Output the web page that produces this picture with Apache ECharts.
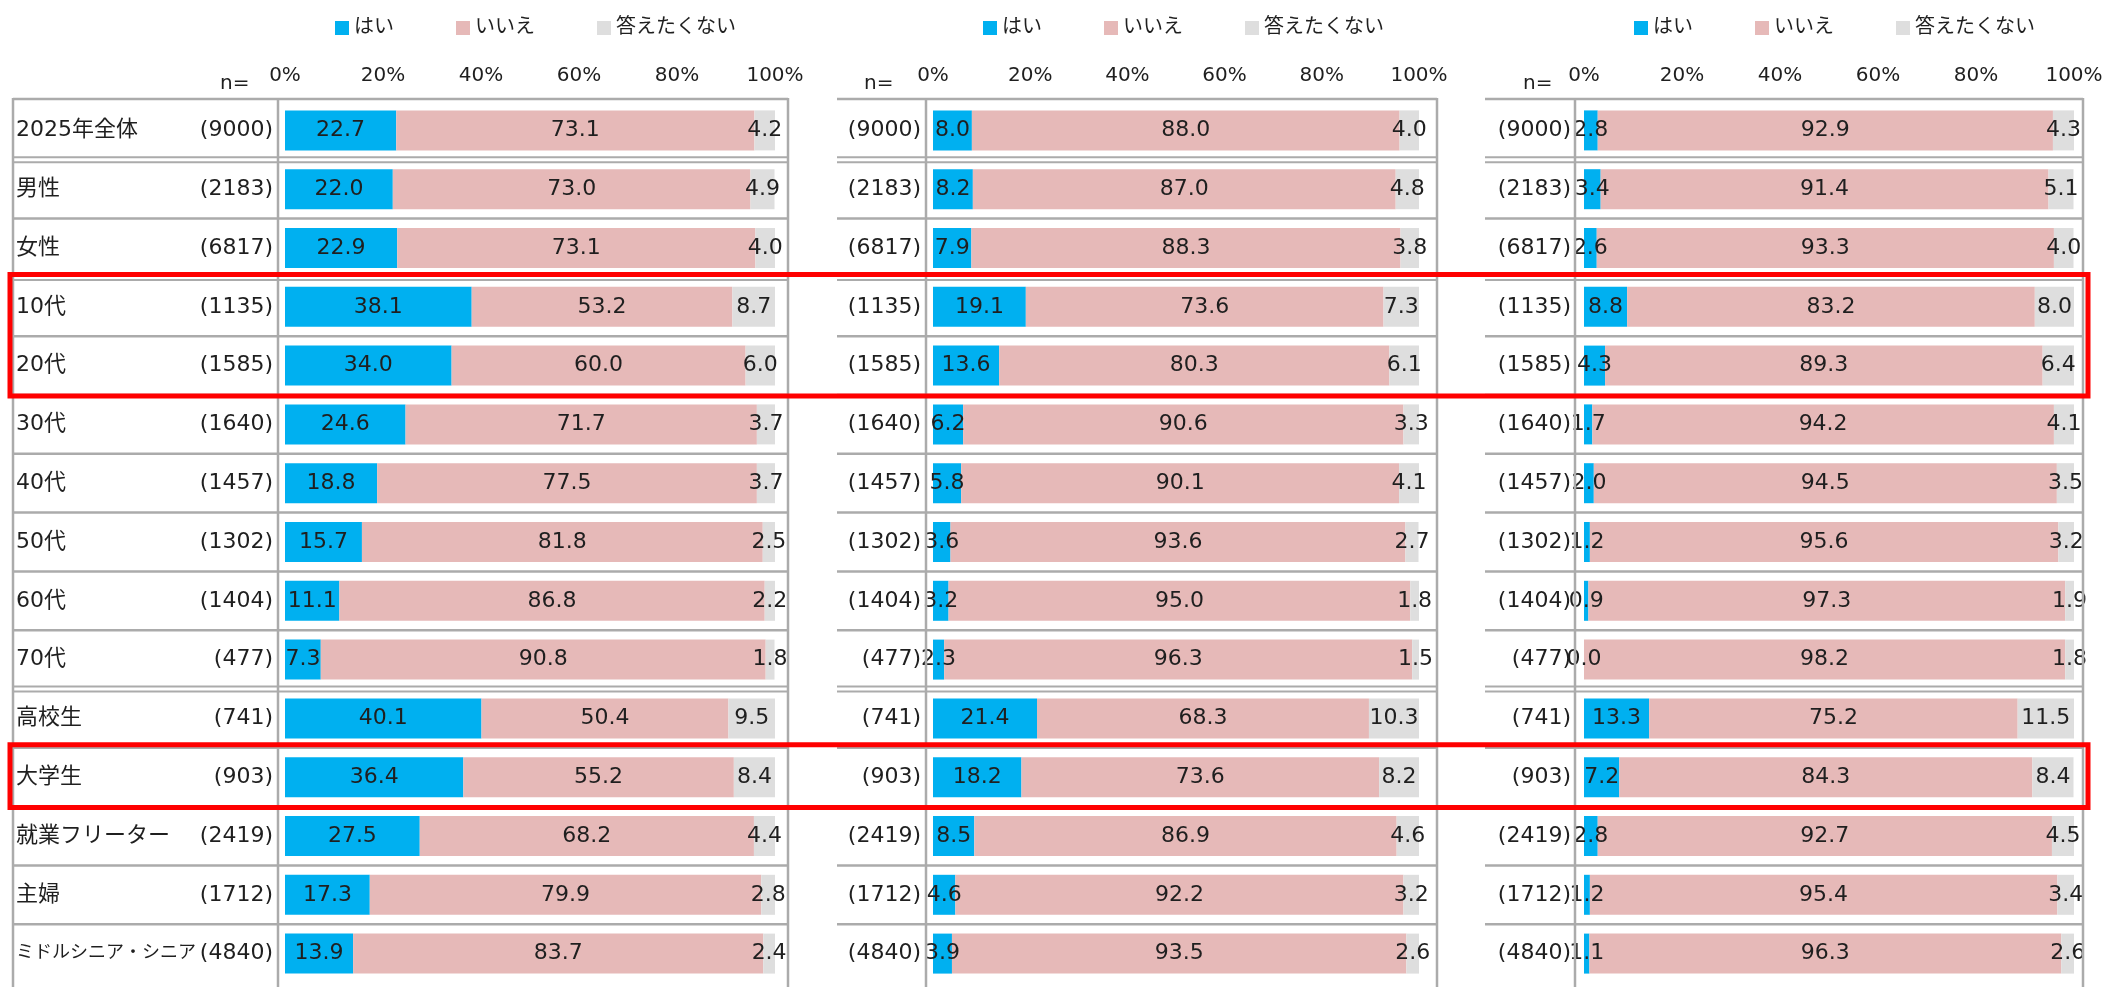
<!DOCTYPE html>
<html><head><meta charset="utf-8">
<script src="https://cdn.jsdelivr.net/npm/echarts@6/dist/echarts.min.js"></script>
<style>html,body{margin:0;padding:0;background:#fff}#c{width:2105px;height:987px}</style>
</head><body><div id="c"></div>
<script>
// ---- data ----
const categories = ['2025年全体','男性','女性','10代','20代','30代','40代','50代','60代','70代','高校生','大学生','就業フリーター','主婦','ミドルシニア・シニア'];
const sampleSizes = [9000,2183,6817,1135,1585,1640,1457,1302,1404,477,741,903,2419,1712,4840];
const seriesNames = ['はい','いいえ','答えたくない'];
const tickLabels = ['0%','20%','40%','60%','80%','100%'];

const yes1 = [22.7,22.0,22.9,38.1,34.0,24.6,18.8,15.7,11.1,7.3,40.1,36.4,27.5,17.3,13.9];
const no1  = [73.1,73.0,73.1,53.2,60.0,71.7,77.5,81.8,86.8,90.8,50.4,55.2,68.2,79.9,83.7];
const na1  = [4.2,4.9,4.0,8.7,6.0,3.7,3.7,2.5,2.2,1.8,9.5,8.4,4.4,2.8,2.4];

const yes2 = [8.0,8.2,7.9,19.1,13.6,6.2,5.8,3.6,3.2,2.3,21.4,18.2,8.5,4.6,3.9];
const no2  = [88.0,87.0,88.3,73.6,80.3,90.6,90.1,93.6,95.0,96.3,68.3,73.6,86.9,92.2,93.5];
const na2  = [4.0,4.8,3.8,7.3,6.1,3.3,4.1,2.7,1.8,1.5,10.3,8.2,4.6,3.2,2.6];

const yes3 = [2.8,3.4,2.6,8.8,4.3,1.7,2.0,1.2,0.9,0.0,13.3,7.2,2.8,1.2,1.1];
const no3  = [92.9,91.4,93.3,83.2,89.3,94.2,94.5,95.6,97.3,98.2,75.2,84.3,92.7,95.4,96.3];
const na3  = [4.3,5.1,4.0,8.0,6.4,4.1,3.5,3.2,1.9,1.8,11.5,8.4,4.5,3.4,2.6];

const highlightRows = [[3,4],[11,11]];
const doubleLineAfter = [0,2,9];

// ---- styling / layout ----
const FONT = '"DejaVu Sans", "Noto Sans CJK JP", sans-serif';
const TXT = '#1f1f1f';
const colors = ['#00B0F0','#E6B9B8','#DEDEDE'];
const LINE = '#ABABAB';
const ROW_TOP = 101, ROW_H = 58.8, NROW = categories.length;
const panels = [
  {tableLeft:13, divider:278, gridLeft:285, gridWidth:490, tableRight:788, leftBorder:true, nX:220},
  {tableLeft:837, divider:926, gridLeft:933, gridWidth:486, tableRight:1437, leftBorder:false, nX:864},
  {tableLeft:1485, divider:1575, gridLeft:1584, gridWidth:490, tableRight:2083, leftBorder:false, nX:1523}
];
const panelData = [[yes1,no1,na1],[yes2,no2,na2],[yes3,no3,na3]];

const grid = [], xAxis = [], yAxis = [], series = [], legend = [], graphic = [];

panels.forEach((p, pi) => {
  grid.push({left:p.gridLeft, width:p.gridWidth, top:ROW_TOP, height:ROW_H*NROW, outerBoundsMode:'none', containLabel:false});
  xAxis.push({
    gridIndex:pi, type:'value', min:0, max:100, interval:20, position:'top',
    axisLine:{show:false}, axisTick:{show:false}, splitLine:{show:false},
    axisLabel:{margin:15, fontSize:20, fontFamily:FONT, color:TXT, formatter: v => tickLabels[Math.round(v/20)]}
  });
  let axisLabel;
  if (pi === 0) {
    axisLabel = {
      align:'left', margin:p.gridLeft - 16,
      formatter:(v, i) => (v.length > 8 ? `{s|${v}}` : `{a|${v}}`) + `{b|(${sampleSizes[i]})}`,
      rich:{
        a:{width:185, align:'left', fontSize:22, fontFamily:FONT, color:TXT},
        s:{width:185, align:'left', fontSize:18, fontFamily:FONT, color:TXT},
        b:{width:72, align:'right', fontSize:22, fontFamily:FONT, color:TXT}
      }
    };
  } else {
    axisLabel = {margin: pi === 1 ? 12 : 13, fontSize:22, fontFamily:FONT, color:TXT,
      formatter:(v, i) => `(${sampleSizes[i]})`};
  }
  yAxis.push({gridIndex:pi, type:'category', inverse:true, data:categories,
    axisLine:{show:false}, axisTick:{show:false}, splitLine:{show:false}, axisLabel});

  panelData[pi].forEach((arr, si) => {
    series.push({
      type:'bar', name:seriesNames[si], xAxisIndex:pi, yAxisIndex:pi, stack:'p'+pi,
      barWidth:40, data:arr, itemStyle:{color:colors[si]},
      label:{show:true, position:'inside', fontSize:22, fontFamily:FONT, color:TXT,
        formatter: d => Number(d.value).toFixed(1)},
      emphasis:{disabled:true}, animation:false
    });
  });

  legend.push({left:p.gridLeft + 45, top:13, icon:'rect', itemWidth:14, itemHeight:14, itemGap:62,
    data:seriesNames, textStyle:{fontSize:20, fontFamily:FONT, color:TXT}, selectedMode:false});

  // table lines
  const ln = (x1,y1,x2,y2,w) => graphic.push({type:'line', shape:{x1,y1,x2,y2}, style:{stroke:LINE, lineWidth:w||2.5}, z:5, silent:true});
  ln(p.tableLeft, ROW_TOP-2, p.tableRight, ROW_TOP-2);
  for (let i = 0; i < NROW-1; i++) {
    const y = ROW_TOP + (i+1)*ROW_H;
    if (doubleLineAfter.includes(i)) {
      ln(p.tableLeft, y-2.5, p.tableRight, y-2.5, 2);
      ln(p.tableLeft, y+2.5, p.tableRight, y+2.5, 2);
    } else ln(p.tableLeft, y, p.tableRight, y);
  }
  if (p.leftBorder) ln(p.tableLeft, ROW_TOP-3, p.tableLeft, 987);
  ln(p.divider, ROW_TOP-3, p.divider, 987);
  ln(p.tableRight, ROW_TOP-3, p.tableRight, 987);

  graphic.push({type:'text', x:p.nX, y:84, style:{text:'n=', font:'20px ' + FONT, fill:TXT, verticalAlign:'middle'}, z:5, silent:true});
});

highlightRows.forEach(([r0, r1]) => {
  const y0 = ROW_TOP + r0*ROW_H - 3, y1 = ROW_TOP + (r1+1)*ROW_H + 1;
  graphic.push({type:'rect', shape:{x:10, y:y0, width:2078, height:y1-y0},
    style:{fill:'rgba(0,0,0,0)', stroke:'#FF0000', lineWidth:5}, z:10, silent:true});
});

const chart = echarts.init(document.getElementById('c'), null, {renderer:'canvas'});
chart.setOption({animation:false, backgroundColor:'#fff', grid, xAxis, yAxis, series, legend, graphic});
</script></body></html>
